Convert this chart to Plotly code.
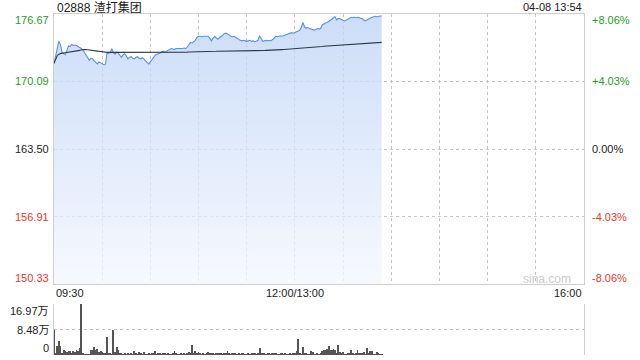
import plotly.graph_objects as go

# ---------------- data ----------------
title_text = "02888 渣打集团"
stamp_text = "04-08 13:54"
prev_close = 163.50
y_ticks = [176.67, 170.09, 163.50, 156.91, 150.33]
pct_ticks = ["+8.06%", "+4.03%", "0.00%", "-4.03%", "-8.06%"]
vol_ticks = [16.97, 8.48, 0]
vol_tick_text = ["16.97万", "8.48万", "0"]
time_labels = ["09:30", "12:00/13:00", "16:00"]
session_minutes = 330

price = [
    171.85, 172.60, 173.60, 174.00, 173.70, 172.95, 172.80, 172.70, 173.10, 173.55,
    173.50, 173.70, 173.60, 173.65, 173.60, 173.50, 173.45, 173.30, 173.15, 172.90,
    172.65, 172.40, 172.15, 172.35, 172.30, 172.10, 171.95, 171.80, 172.00, 171.90,
    171.75, 171.72, 171.75, 172.80, 172.85, 172.90, 173.28, 172.90, 172.75, 172.95,
    172.85, 172.60, 172.45, 172.70, 172.80, 172.60, 172.30, 172.45, 172.50, 172.35,
    172.30, 172.45, 172.50, 172.35, 172.30, 172.40, 172.30, 172.10, 171.95, 171.80,
    172.00, 172.25, 172.45, 172.65, 172.75, 172.80, 172.85, 173.00, 173.05, 172.95,
    173.05, 173.10, 173.20, 173.30, 173.25, 173.20, 173.30, 173.30, 173.25, 173.30,
    173.30, 173.35, 173.30, 173.45, 173.75, 173.90, 173.85, 174.00, 174.10, 174.40,
    174.50, 174.50, 174.45, 174.50, 174.50, 174.45, 174.50, 174.30, 174.05, 174.30,
    174.50, 174.35, 174.20, 174.35, 174.45, 174.60, 174.75, 174.80, 174.75, 174.60,
    174.50, 174.45, 174.50, 174.40, 174.30, 174.15, 174.10, 174.05, 174.10, 174.05,
    174.00, 174.05, 174.10, 174.00, 174.05, 173.95, 174.05, 174.10, 174.55, 174.20,
    174.00, 174.05, 174.10, 174.05, 174.10, 174.05, 174.15, 174.30, 174.50, 174.45,
    174.50, 174.55, 174.50, 174.55, 174.60, 174.65, 174.70, 174.80, 174.85, 174.80,
    174.85, 174.95, 175.00, 175.10, 175.35, 175.85, 175.40, 175.30, 175.35, 175.25,
    175.20, 175.15, 175.10, 175.15, 175.25, 175.20, 175.25, 175.60, 175.75, 175.80,
    175.85, 175.95, 176.00, 176.15, 176.30, 176.40, 176.10, 176.25, 176.20, 176.10,
    176.05, 176.00, 176.10, 176.15, 176.30, 176.35, 176.30, 176.35, 176.30, 176.35,
    176.30, 176.25, 176.20, 176.05, 176.00, 176.10, 176.20, 176.30, 176.35, 176.40,
    176.45, 176.40, 176.45, 176.45, 176.50,
]

avg_price = [
    171.85, 172.30, 172.60, 172.75, 172.82, 172.85, 172.86, 172.88, 172.90, 172.93,
    172.96, 172.99, 173.02, 173.05, 173.08, 173.10, 173.12, 173.18, 173.20, 173.20,
    173.19, 173.18, 173.17, 173.15, 173.13, 173.11, 173.08, 173.05, 173.03, 173.00,
    172.98, 172.96, 172.94, 172.93, 172.93, 172.93, 172.93, 172.93, 172.92, 172.92,
    172.92, 172.92, 172.91, 172.91, 172.91, 172.91, 172.90, 172.90, 172.90, 172.90,
    172.90, 172.90, 172.89, 172.89, 172.89, 172.89, 172.89, 172.89, 172.88, 172.88,
    172.88, 172.88, 172.88, 172.88, 172.88, 172.88, 172.88, 172.89, 172.89, 172.90,
    172.90, 172.90, 172.91, 172.91, 172.92, 172.92, 172.92, 172.93, 172.93, 172.93,
    172.94, 172.94, 172.95, 172.95, 172.96, 172.96, 172.97, 172.97, 172.98, 172.98,
    172.99, 172.99, 173.00, 173.00, 173.01, 173.01, 173.02, 173.02, 173.02, 173.03,
    173.03, 173.03, 173.04, 173.04, 173.04, 173.05, 173.05, 173.05, 173.06, 173.06,
    173.06, 173.07, 173.07, 173.07, 173.08, 173.08, 173.08, 173.08, 173.09, 173.09,
    173.09, 173.09, 173.10, 173.10, 173.10, 173.10, 173.10, 173.11, 173.11, 173.11,
    173.11, 173.11, 173.12, 173.12, 173.12, 173.12, 173.13, 173.14, 173.15, 173.16,
    173.17, 173.18, 173.19, 173.20, 173.21, 173.22, 173.23, 173.24, 173.25, 173.27,
    173.28, 173.29, 173.31, 173.32, 173.34, 173.35, 173.36, 173.37, 173.38, 173.40,
    173.42, 173.43, 173.44, 173.45, 173.47, 173.48, 173.49, 173.50, 173.52, 173.53,
    173.55, 173.56, 173.58, 173.59, 173.61, 173.62, 173.64, 173.65, 173.67, 173.68,
    173.70, 173.71, 173.72, 173.73, 173.74, 173.75, 173.76, 173.77, 173.78, 173.79,
    173.80, 173.81, 173.81, 173.82, 173.83, 173.84, 173.84, 173.85, 173.86, 173.86,
    173.87, 173.88, 173.88, 173.89, 173.90,
]

volume_wan = [
    8.40, 0.80, 3.00, 4.60, 3.00, 0.50, 1.50, 1.20, 1.00, 1.30,
    1.20, 0.80, 1.40, 1.00, 1.70, 1.20, 2.20, 16.97, 0.40, 0.30,
    0.30, 0.20, 0.30, 1.70, 1.70, 2.50, 1.60, 1.90, 1.10, 1.40,
    0.90, 0.50, 0.40, 5.90, 0.70, 0.50, 0.30, 8.20, 1.10, 2.60,
    1.60, 0.60, 0.40, 0.30, 0.40, 0.30, 0.60, 0.30, 0.40, 0.20,
    1.30, 0.50, 0.30, 1.00, 0.40, 0.30, 1.00, 0.30, 0.20, 0.60,
    0.30, 0.40, 0.50, 1.20, 0.30, 0.60, 0.40, 0.30, 0.50, 0.60,
    0.30, 0.50, 0.30, 0.20, 0.60, 1.40, 0.40, 0.30, 0.20, 0.50,
    0.30, 0.40, 0.30, 0.50, 1.00, 0.60, 3.40, 0.50, 1.20, 0.80,
    1.00, 0.50, 0.20, 0.40, 0.30, 0.50, 1.00, 0.60, 0.40, 0.50,
    0.30, 0.60, 0.40, 0.50, 0.80, 0.30, 0.60, 0.40, 1.40, 0.50,
    0.30, 0.60, 0.40, 0.80, 0.30, 0.50, 0.30, 0.60, 0.40, 0.20,
    0.30, 0.50, 0.30, 0.60, 0.40, 0.80, 0.30, 0.50, 2.20, 0.80,
    0.60, 0.40, 0.30, 0.50, 0.40, 0.30, 0.60, 0.40, 0.60, 0.30,
    0.20, 0.40, 0.80, 0.30, 0.50, 0.30, 0.20, 0.40, 0.30, 0.50,
    0.60, 1.30, 5.40, 0.50, 0.30, 2.50, 0.80, 0.40, 0.30, 0.20,
    1.20, 1.00, 0.30, 0.20, 0.40, 0.30, 0.80, 1.20, 1.60, 1.50,
    1.90, 3.10, 1.60, 1.50, 1.90, 1.60, 0.40, 3.40, 1.00, 0.80,
    1.00, 0.30, 0.30, 0.50, 0.60, 1.60, 0.80, 0.30, 0.60, 1.70,
    0.80, 0.40, 0.50, 1.00, 0.30, 2.30, 0.40, 1.20, 1.20, 0.30,
    0.20, 1.00, 0.50, 0.30, 0.30,
]

minutes = list(range(len(price)))

# ---------------- styling ----------------
FONT = "Liberation Sans, Arial, Noto Sans CJK SC, sans-serif"
GREEN = "#1f9e24"
RED = "#e8372b"
GRID = "#c4c4c4"
FRAME = "#cfcfcf"

fig = go.Figure()

fig.add_trace(go.Scatter(
    x=minutes, y=price, mode="lines",
    line=dict(color="#5a8ff0", width=1.1),
    fill="tozeroy",
    fillgradient=dict(
        type="vertical",
        start=y_ticks[-1], stop=y_ticks[0],
        colorscale=[[0, "rgba(244,247,254,0.75)"], [1, "rgba(187,210,246,0.75)"]],
    ),
    hoverinfo="skip", xaxis="x", yaxis="y",
))
fig.add_trace(go.Scatter(
    x=minutes, y=avg_price, mode="lines",
    line=dict(color="#2f3747", width=1.1),
    hoverinfo="skip", xaxis="x", yaxis="y",
))
fig.add_trace(go.Bar(
    x=minutes, y=volume_wan, width=0.55,
    marker=dict(color="#555555", line=dict(width=0)),
    hoverinfo="skip", xaxis="x2", yaxis="y2",
))

xdom = [54 / 640, 584 / 640]
grid_vals = list(range(30, session_minutes, 30))

fig.update_layout(
    width=640, height=360,
    margin=dict(l=0, r=0, t=0, b=0),
    paper_bgcolor="white", plot_bgcolor="white",
    showlegend=False, hovermode=False, bargap=0,
    font=dict(family=FONT, size=11, color="#333"),
    xaxis=dict(
        domain=xdom, range=[0, session_minutes], anchor="y",
        tickvals=grid_vals, showticklabels=False, ticks="",
        showgrid=True, gridcolor=GRID, griddash="dot", gridwidth=1,
        showline=True, linecolor=FRAME, linewidth=1, mirror=True,
        zeroline=False, fixedrange=True,
    ),
    yaxis=dict(
        domain=[(360 - 284) / 360, (360 - 14) / 360],
        range=[y_ticks[-1], y_ticks[0]], anchor="x",
        tickvals=y_ticks[1:-1], showticklabels=False, ticks="",
        showgrid=True, gridcolor=GRID, griddash="dot", gridwidth=1,
        showline=True, linecolor=FRAME, linewidth=1, mirror=True,
        zeroline=False, fixedrange=True,
    ),
    xaxis2=dict(
        domain=xdom, range=[0, session_minutes], anchor="y2",
        showticklabels=False, ticks="", showgrid=False,
        showline=False, zeroline=False, fixedrange=True,
    ),
    yaxis2=dict(
        domain=[(360 - 355) / 360, (360 - 304) / 360],
        range=[0, vol_ticks[0]], anchor="x2",
        tickvals=vol_ticks, showticklabels=False, ticks="",
        showgrid=True, gridcolor=GRID, griddash="dot", gridwidth=1,
        showline=True, linecolor=FRAME, linewidth=1, mirror=True,
        zeroline=False, fixedrange=True,
    ),
)

ann = []
ann.append(dict(text=title_text, x=55 / 640, y=1 - 7 / 360, xref="paper", yref="paper",
                xanchor="left", yanchor="middle", showarrow=False,
                font=dict(size=12, color="#222", family=FONT)))
ann.append(dict(text=stamp_text, x=584 / 640, y=1 - 7 / 360, xref="paper", yref="paper",
                xanchor="right", yanchor="middle", showarrow=False,
                font=dict(size=11, color="#222", family=FONT)))

left_colors = [GREEN, GREEN, "#222", RED, RED]
shifts = [-6, 0, 0, 0, 6]
for v, p, c, s in zip(y_ticks, pct_ticks, left_colors, shifts):
    ann.append(dict(text=f"{v:.2f}", x=51 / 640, y=v, xref="paper", yref="y",
                    xanchor="right", yanchor="middle", yshift=s, showarrow=False,
                    font=dict(size=11, color=c, family=FONT)))
    ann.append(dict(text=p, x=590 / 640, y=v, xref="paper", yref="y",
                    xanchor="left", yanchor="middle", yshift=s, showarrow=False,
                    font=dict(size=11, color=c, family=FONT)))

ann.append(dict(text=time_labels[0], x=0, y=1 - 293 / 360, xref="x", yref="paper",
                xanchor="left", yanchor="middle", showarrow=False,
                font=dict(size=11, color="#222", family=FONT)))
ann.append(dict(text=time_labels[1], x=150, y=1 - 293 / 360, xref="x", yref="paper",
                xanchor="center", yanchor="middle", showarrow=False,
                font=dict(size=11, color="#222", family=FONT)))
ann.append(dict(text=time_labels[2], x=session_minutes, y=1 - 293 / 360, xref="x", yref="paper",
                xanchor="right", yanchor="middle", showarrow=False,
                font=dict(size=11, color="#222", family=FONT)))

vshifts = [-7, 0, 7]
for v, t, s in zip(vol_ticks, vol_tick_text, vshifts):
    ann.append(dict(text=t, x=51 / 640, y=v, xref="paper", yref="y2",
                    xanchor="right", yanchor="middle", yshift=s, showarrow=False,
                    font=dict(size=11, color="#222", family=FONT)))

ann.append(dict(text="sina.com", x=573 / 640, y=1 - 279 / 360, xref="paper", yref="paper",
                xanchor="right", yanchor="middle", showarrow=False,
                font=dict(size=12, color="#cccccc", family=FONT)))

fig.update_layout(annotations=ann)

fig.write_html("out.html")
